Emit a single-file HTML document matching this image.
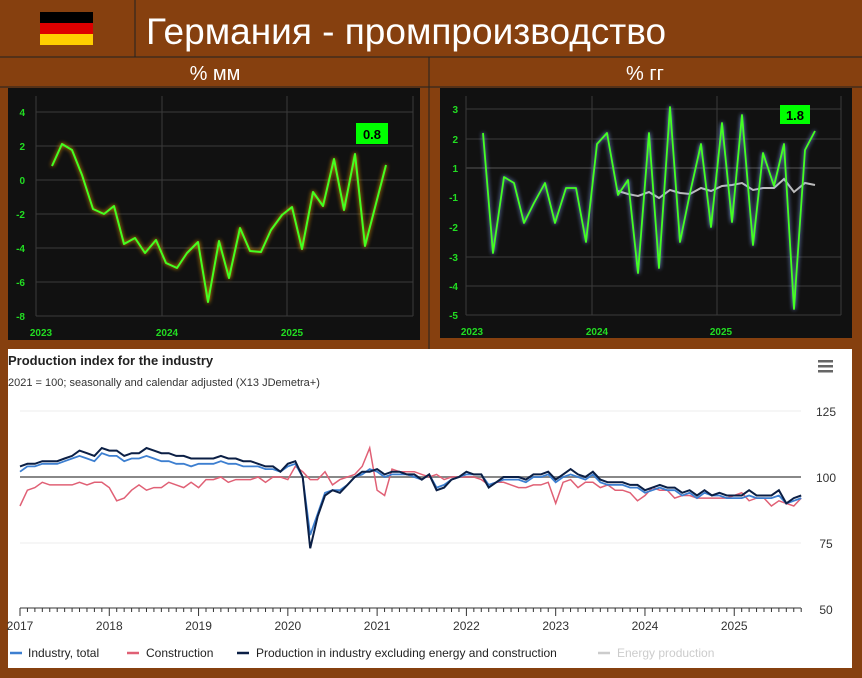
<!DOCTYPE html>
<html><head><meta charset="utf-8"><style>
html,body{margin:0;padding:0;background:#86400f;}
svg{display:block}
</style></head><body>
<svg id="s" width="862" height="678" xmlns="http://www.w3.org/2000/svg" font-family="Liberation Sans, sans-serif">
<rect width="862" height="678" fill="#86400f"/>
<!-- header -->
<rect x="40" y="12" width="53" height="11" fill="#000"/>
<rect x="40" y="23" width="53" height="11" fill="#dd0000"/>
<rect x="40" y="34" width="53" height="11" fill="#ffce00"/>
<line x1="135" y1="0" x2="135" y2="57" stroke="#222" stroke-width="1"/>
<text x="146" y="44" font-size="37" fill="#fff">Германия - промпроизводство</text>
<line x1="0" y1="57" x2="862" y2="57" stroke="#222"/>
<line x1="0" y1="87" x2="862" y2="87" stroke="#222"/>
<line x1="429" y1="57" x2="429" y2="349" stroke="#222"/>
<text x="215" y="80" font-size="20" fill="#fff" text-anchor="middle">% мм</text>
<text x="645" y="80" font-size="20" fill="#fff" text-anchor="middle">% гг</text>
<!-- left panel -->
<rect x="8" y="88" width="412" height="252" fill="#111"/>
<g id="lg" stroke="#3a3a3a" stroke-width="1"></g>
<g font-size="10" font-weight="bold" fill="#22dd22" id="ll"></g>
<polyline id="lp" fill="none" stroke="#44ff22" stroke-width="2" stroke-linejoin="round" style="filter:drop-shadow(0 0 2px #ffaa00)"/>
<rect x="356" y="123" width="32" height="21" fill="#00ff00"/>
<text x="372" y="139" font-size="13" font-weight="bold" text-anchor="middle" fill="#000">0.8</text>
<!-- right panel -->
<rect x="440" y="88" width="412" height="250" fill="#111"/>
<g id="rg" stroke="#3a3a3a" stroke-width="1"></g>
<g font-size="10" font-weight="bold" fill="#22dd22" id="rl"></g>
<polyline id="rgr" fill="none" stroke="#bbb" stroke-width="2"/>
<polyline id="rp" fill="none" stroke="#44ff22" stroke-width="1.8" stroke-linejoin="round" style="filter:drop-shadow(0 0 2px #88aaff)"/>
<rect x="780" y="105" width="30" height="19" fill="#00ff00"/>
<text x="795" y="120" font-size="13" font-weight="bold" text-anchor="middle" fill="#000">1.8</text>
<!-- bottom -->
<rect x="8" y="349" width="844" height="319" fill="#fff"/>
<text x="8" y="365" font-size="13" font-weight="bold" fill="#222">Production index for the industry</text>
<text x="8" y="386" font-size="11" fill="#333">2021 = 100; seasonally and calendar adjusted (X13 JDemetra+)</text>
<g fill="#666"><rect x="818" y="360" width="15" height="2.5"/><rect x="818" y="365" width="15" height="2.5"/><rect x="818" y="370" width="15" height="2.5"/></g>
<g id="bg"></g>
<polyline id="bp" fill="none" stroke="#e06075" stroke-width="1.5"/>
<polyline id="bb" fill="none" stroke="#3d7fd0" stroke-width="1.8"/>
<polyline id="bn" fill="none" stroke="#0b1f45" stroke-width="2"/>
<g font-size="12" fill="#222">
<line x1="10" y1="653" x2="22" y2="653" stroke="#3d7fd0" stroke-width="2.5"/><text x="28" y="657">Industry, total</text>
<line x1="127" y1="653" x2="139" y2="653" stroke="#e06075" stroke-width="2.5"/><text x="146" y="657">Construction</text>
<line x1="237" y1="653" x2="249" y2="653" stroke="#0b1f45" stroke-width="2.5"/><text x="256" y="657">Production in industry excluding energy and construction</text>
<line x1="598" y1="653" x2="610" y2="653" stroke="#ccc" stroke-width="2.5"/><text x="617" y="657" fill="#ccc">Energy production</text>
</g>
</svg>
<script>
var NS="http://www.w3.org/2000/svg";
function el(p,t,a,txt){var e=document.createElementNS(NS,t);for(var k in a)e.setAttribute(k,a[k]);if(txt!==undefined)e.textContent=txt;document.getElementById(p).appendChild(e);return e;}
// left
[4,2,0,-2,-4,-6,-8].forEach(function(v){var y=180-v*17;el("lg","line",{x1:36,x2:413,y1:y,y2:y});el("ll","text",{x:25,y:y+4,"text-anchor":"end"},v);});
[36,162,287,413].forEach(function(x){el("lg","line",{x1:x,x2:x,y1:96,y2:316});});
[[41,"2023"],[167,"2024"],[292,"2025"]].forEach(function(a){el("ll","text",{x:a[0],y:336,"text-anchor":"middle"},a[1]);});
document.getElementById("lp").setAttribute("points","52,166 62,144 72,150 82,175 93,209 104,214 114,206 124,244 135,238 145,253 156,240 166,263 177,268 187,253 198,242 208,302 219,241 229,278 240,228 250,251 261,252 271,230 282,215 292,207 302,249 313,192 323,206 334,159 344,210 355,154 365,246 386,165");
// right
[[3,109],[2,139],[1,168],[-1,197],[-2,227],[-3,257],[-4,286],[-5,315]].forEach(function(a){if(a[0]>-1||a[0]<-2)el("rg","line",{x1:466,x2:841,y1:a[1],y2:a[1],stroke:a[0]==1?"#555":"#3a3a3a"});el("rl","text",{x:458,y:a[1]+4,"text-anchor":"end"},a[0]);});
[466,592,717,841].forEach(function(x){el("rg","line",{x1:x,x2:x,y1:96,y2:315});});
[[472,"2023"],[597,"2024"],[721,"2025"]].forEach(function(a){el("rl","text",{x:a[0],y:335,"text-anchor":"middle"},a[1]);});
document.getElementById("rp").setAttribute("points","483,133 493,253 504,177 514,183 524,223 534,203 545,183 555,223 566,188 576,188 586,242 597,144 607,133 618,195 628,180 638,273 649,133 659,268 670,107 680,242 690,193 701,144 711,227 722,123 732,222 742,115 753,245 763,153 774,186 784,144 794,309 805,150 815,131");
document.getElementById("rgr").setAttribute("points","618,191 628,194 638,196 649,192 659,198 670,190 680,193 690,194 701,188 711,191 722,186 732,185 742,183 753,190 763,188 774,188 784,179 794,192 805,183 815,185");
// bottom
var Y=function(v){return 477-(v-100)*2.64;};
[125,100,75].forEach(function(v){el("bg","line",{x1:20,x2:801,y1:Y(v),y2:Y(v),stroke:v==100?"#888":"#eee","stroke-width":v==100?2:1});});
[125,100,75,50].forEach(function(v){el("bg","text",{x:826,y:Y(v)+5,"text-anchor":"middle","font-size":12,fill:"#333"},v);});
el("bg","line",{x1:20,x2:801,y1:608,y2:608,stroke:"#333"});
for(var i=0;i<=105;i++){var x=20+i*7.44;el("bg","line",{x1:x,x2:x,y1:608,y2:i%12==0?616:612,stroke:"#333"});}
for(var yr=0;yr<9;yr++){el("bg","text",{x:20+yr*12*7.44,y:630,"text-anchor":"middle","font-size":12,fill:"#333"},2017+yr);}
function P(id,d){document.getElementById(id).setAttribute("points",d.map(function(v,i){return (20+i*7.44).toFixed(1)+","+Y(v).toFixed(1);}).join(" "));}
P("bn",[104,105,105,106,106,106,107,108,110,109,108,111,110,110,108,109,109,111,110,109,109,108,108,107,107,107,107,108,107,107,106,106,105,104,104,102,105,106,100,73,85,93,95,94,97,100,102,102,103,101,102,102,101,101,99,101,95,96,99,100,102,101,101,96,98,100,100,100,99,101,101,102,99,101,103,101,100,102,99,98,98,98,97,97,95,96,97,96,96,94,95,93,95,93,94,93,93,93,95,93,93,93,95,90,92,93]);
P("bb",[102,104,104,105,105,105,106,107,108,107,106,109,108,108,106,107,107,108,107,106,106,105,105,104,105,105,105,106,105,105,104,104,104,103,103,102,104,105,100,78,86,94,95,95,97,100,101,103,102,100,101,101,101,100,99,101,96,97,99,100,101,101,101,97,98,99,99,99,98,100,100,101,98,100,101,100,99,101,98,97,97,97,96,96,94,95,96,95,95,93,94,92,94,93,93,92,92,92,93,92,92,92,93,90,91,92]);
P("bp",[89,95,96,98,97,97,97,97,98,97,98,98,96,91,92,95,97,95,96,96,98,97,96,98,96,99,99,100,98,99,99,99,100,98,100,100,99,104,102,99,99,102,97,99,100,101,104,111,95,93,103,102,102,102,101,100,101,99,100,100,100,100,99,97,98,98,97,96,96,97,97,98,90,98,99,96,98,98,96,97,95,95,94,91,93,96,95,95,92,93,93,92,92,92,92,92,93,94,91,92,92,89,91,90,89,92]);
</script>
</body></html>
